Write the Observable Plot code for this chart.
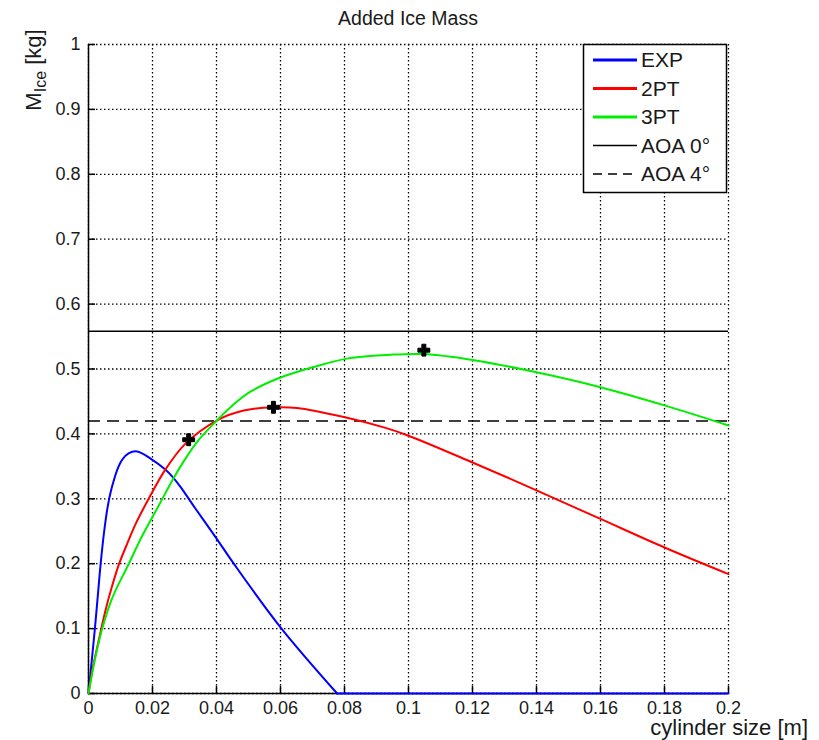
<!DOCTYPE html>
<html>
<head>
<meta charset="utf-8">
<script src="https://cdn.jsdelivr.net/npm/d3@7"></script>
<script src="https://cdn.jsdelivr.net/npm/@observablehq/plot@0.6"></script>
<style>
  html, body { margin: 0; padding: 0; background: #fff; }
  #chart { width: 819px; height: 740px; }
</style>
</head>
<body>
<div id="chart"></div>
<script>
// ---- data ----
const title = "Added Ice Mass";
const xLabel = "cylinder size [m]";
const xTicks = [0, 0.02, 0.04, 0.06, 0.08, 0.1, 0.12, 0.14, 0.16, 0.18, 0.2];
const yTicks = [0, 0.1, 0.2, 0.3, 0.4, 0.5, 0.6, 0.7, 0.8, 0.9, 1];

const expX = [0, 0.001, 0.002, 0.0029, 0.0038, 0.0049, 0.006, 0.007, 0.0079, 0.009, 0.0105, 0.0125, 0.0152, 0.0194, 0.024, 0.0264, 0.0288, 0.0334, 0.0397, 0.0454, 0.06, 0.0777, 0.1, 0.12, 0.14, 0.16, 0.18, 0.2];
const expY = [0, 0.05, 0.1, 0.15, 0.2, 0.25, 0.288, 0.312, 0.328, 0.345, 0.36, 0.37, 0.373, 0.362, 0.345, 0.333, 0.318, 0.285, 0.241, 0.2, 0.102, 0, 0, 0, 0, 0, 0, 0];

const pt2X = [0, 0.00115, 0.0032, 0.0053, 0.0074, 0.0095, 0.0121, 0.0147, 0.0188, 0.024, 0.0303, 0.0402, 0.0485, 0.0579, 0.0652, 0.0798, 0.0923, 0.0996, 0.12, 0.14, 0.16, 0.18, 0.2];
const pt2Y = [0, 0.035, 0.082, 0.128, 0.166, 0.199, 0.231, 0.261, 0.30, 0.345, 0.385, 0.421, 0.436, 0.441, 0.440, 0.426, 0.410, 0.398, 0.356, 0.313, 0.269, 0.225, 0.184];

const pt3X = [0, 0.0022, 0.0043, 0.0074, 0.0126, 0.0168, 0.022, 0.0264, 0.0298, 0.0345, 0.0402, 0.0455, 0.0506, 0.059, 0.0703, 0.0808, 0.0944, 0.1048, 0.12, 0.14, 0.16, 0.18, 0.2];
const pt3Y = [0, 0.057, 0.1, 0.147, 0.2, 0.243, 0.29, 0.33, 0.358, 0.391, 0.421, 0.446, 0.465, 0.485, 0.503, 0.516, 0.522, 0.523, 0.514, 0.495, 0.472, 0.444, 0.413];

const markerX = [0.0313, 0.0578, 0.1048];
const markerY = [0.391, 0.441, 0.529];

const aoa0 = 0.558;
const aoa4 = 0.42;

const legendNames = ["EXP", "2PT", "3PT", "AOA 0°", "AOA 4°"];

// ---- build ----
const colors = { EXP: "#0000ff", EXPtail: "#0000ff", "2PT": "#ff0000", "3PT": "#00ee00" };
const series = [];
expX.forEach((x, i) => {
  // the EXP curve drops to zero and then runs along the axis: split at that corner
  if (i === 0 || expY[i] > 0 || expY[i - 1] > 0) series.push({ s: "EXP", x, y: expY[i] });
  if (expY[i] === 0 && i > 0) series.push({ s: "EXPtail", x, y: expY[i] });
});
pt2X.forEach((x, i) => series.push({ s: "2PT", x, y: pt2Y[i] }));
pt3X.forEach((x, i) => series.push({ s: "3PT", x, y: pt3Y[i] }));
const markers = markerX.map((x, i) => ({ x, y: markerY[i] }));

const fmt = d => String(+d.toFixed(2));
const gridStyle = { stroke: "#000", strokeOpacity: 1, strokeWidth: 1.3, strokeDasharray: "1.5,2.5" };

const plot = Plot.plot({
  width: 819,
  height: 740,
  marginLeft: 88,
  marginRight: 91,
  marginTop: 44,
  marginBottom: 47,
  style: { fontFamily: "'Liberation Sans', Arial, sans-serif", fontSize: "18px", background: "#fff", color: "#1a1a1a" },
  x: { domain: [0, 0.2] },
  y: { domain: [0, 1] },
  marks: [
    Plot.gridX(xTicks, gridStyle),
    Plot.gridY(yTicks, gridStyle),
    Plot.ruleY([aoa0], { stroke: "#000", strokeWidth: 1.5 }),
    Plot.ruleY([aoa4], { stroke: "#000", strokeWidth: 1.5, strokeDasharray: "12,7" }),
    Plot.ruleX([0], { stroke: "#000", strokeWidth: 1.5 }),
    Plot.ruleY([0], { stroke: "#000", strokeWidth: 1.5 }),
    Plot.ruleX(xTicks, { x: d => d, y1: 0, y2: 0.011, stroke: "#000", strokeWidth: 1.5 }),
    Plot.ruleY(yTicks, { y: d => d, x1: 0, x2: 0.0022, stroke: "#000", strokeWidth: 1.5 }),
    Plot.line(series, { x: "x", y: "y", z: "s", stroke: d => colors[d.s], strokeWidth: 2, curve: "catmull-rom" }),
    Plot.dot(markers, { x: "x", y: "y", symbol: "cross", r: 5, fill: "#000", stroke: "#000", strokeWidth: 1 }),
    Plot.axisX(xTicks, { tickSize: 0, tickPadding: 8, tickFormat: fmt, label: null, fontSize: 18 }),
    Plot.axisY(yTicks, { tickSize: 0, tickPadding: 8, tickFormat: fmt, label: null, fontSize: 18 })
  ]
});

document.getElementById("chart").appendChild(plot);

// ---- title, labels, legend ----
const svg = d3.select(plot);
const ff = "'Liberation Sans', Arial, sans-serif";

svg.append("text")
  .attr("x", 408).attr("y", 25)
  .attr("text-anchor", "middle")
  .attr("font-family", ff).attr("font-size", 19.5).attr("fill", "#1a1a1a")
  .text(title);

const yl = svg.append("text")
  .attr("transform", "translate(41,70) rotate(-90)")
  .attr("text-anchor", "middle")
  .attr("font-family", ff).attr("font-size", 22).attr("fill", "#1a1a1a");
yl.append("tspan").text("M");
yl.append("tspan").attr("font-size", 16).attr("dy", 5).text("Ice");
yl.append("tspan").attr("dy", -5).text(" [kg]");

svg.append("text")
  .attr("x", 808).attr("y", 735)
  .attr("text-anchor", "end")
  .attr("font-family", ff).attr("font-size", 22).attr("fill", "#1a1a1a")
  .text(xLabel);

const lg = svg.append("g");
lg.append("rect")
  .attr("x", 583.5).attr("y", 44.5).attr("width", 143).attr("height", 148)
  .attr("fill", "#fff").attr("stroke", "#000").attr("stroke-width", 1.5);
const legendStroke = ["#0000ff", "#ff0000", "#00ee00", "#000", "#000"];
const legendWidth = [3, 3, 3, 1.5, 1.5];
const legendDash = [null, null, null, null, "9,6"];
legendNames.forEach((name, i) => {
  const y = 60 + i * 28.5;
  lg.append("line")
    .attr("x1", 593).attr("x2", 637).attr("y1", y).attr("y2", y)
    .attr("stroke", legendStroke[i]).attr("stroke-width", legendWidth[i])
    .attr("stroke-dasharray", legendDash[i]);
  lg.append("text")
    .attr("x", 641).attr("y", y).attr("dy", "0.35em")
    .attr("text-anchor", "start")
    .attr("font-family", ff).attr("font-size", 21).attr("fill", "#1a1a1a")
    .text(name);
});
</script>
</body>
</html>
